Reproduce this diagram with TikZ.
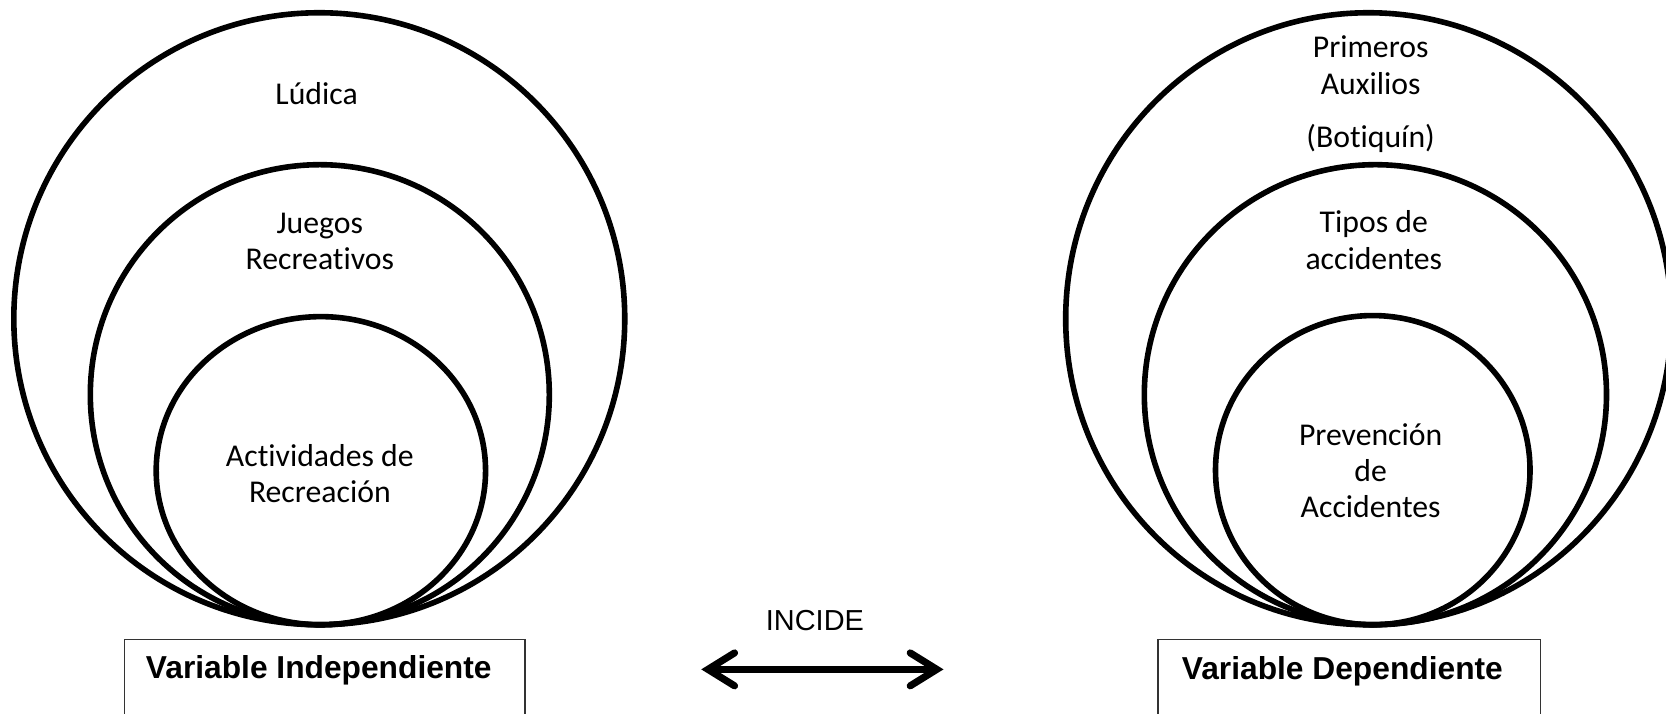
\documentclass[tikz,border=0pt]{standalone}
\usepackage{fontspec}
\usetikzlibrary{arrows.meta}
\newfontfamily\calibri[RawFeature={-liga;-clig;-calt;-dlig}]{Carlito}
\newfontfamily\arial{Liberation Sans}

\begin{document}
\begin{tikzpicture}[x=0.02cm,y=-0.02cm,
    ring/.style ={draw, line width=3pt},
    ringtext/.style ={align=center, inner sep=0pt, font=\calibri\fontsize{17}{19.5}\selectfont},
    varbox/.style ={draw=black!80, line width=0.8pt},
    vartext/.style ={anchor=west, inner sep=0pt, font=\arial\bfseries\fontsize{17}{20}\selectfont},
    incide/.style ={line width=3.8pt, line cap=round, {Straight Barb[length=0.5cm,width=0.62cm,line cap=round]}-{Straight Barb[length=0.5cm,width=0.62cm,line cap=round]}}]
   \useasboundingbox (0,0) rectangle (1568,672);
   \clip (0,0) rectangle (1568,672);
   % independent variable
   \draw[ring] (300.5,300) ellipse [x radius=287.5, y radius=288];
   \draw[ring] (301,371.5) ellipse [x radius=216, y radius=216.5];
   \draw[ring] (302,443) ellipse [x radius=155, y radius=145];
   \node[ringtext] (ludica) at (298,88) {Lúdica};
   \node[ringtext] (juegos) at (301,227) {Juegos\\Recreativos};
   \node[ringtext] (activ) at (301,446) {Actividades de\\Recreación};
   % dependent variable
   \draw[ring] (1288,300) ellipse [x radius=285, y radius=288];
   \draw[ring] (1294.5,371.5) ellipse [x radius=217.5, y radius=216.5];
   \draw[ring] (1292,442.5) ellipse [x radius=148, y radius=145.5];
   \node[ringtext] (auxilios) at (1290,61.5) {Primeros\\Auxilios};
   \node[ringtext] (botiquin) at (1290,130) {(Botiquín)};
   \node[ringtext] (tipos) at (1293,226) {Tipos de\\accidentes};
   \node[ringtext] (prevencion) at (1290,443) {Prevención\\de\\Accidentes};
   % boxes
   \draw[varbox] (117,602) rectangle (494,700);
   \node[vartext] (indep) at (137,631) {Variable Independiente};
   \draw[varbox] (1090,602) rectangle (1450,700);
   \node[vartext] (dep) at (1112,632) {Variable Dependiente};
   % relation
   \node[font=\arial\fontsize{15.5}{18}\selectfont] (inc) at (767,584) {INCIDE};
   \coordinate (tipL) at (660,630);
   \coordinate (tipR) at (888,630);
   \draw[incide] (tipL) -- (tipR);
 \end{tikzpicture}
\end{document}
